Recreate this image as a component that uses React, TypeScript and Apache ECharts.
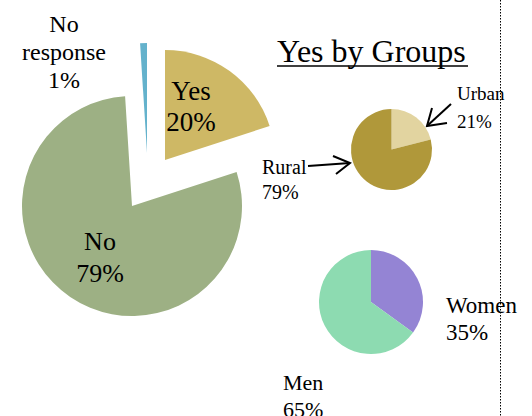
import React, { useEffect, useRef } from 'react';
import * as echarts from 'echarts';

const responseNames = ['Yes', 'No', 'No response'];
const responseValues = [20, 79, 1];
const locationNames = ['Urban', 'Rural'];
const locationValues = [21, 79];
const genderNames = ['Women', 'Men'];
const genderValues = [35, 65];
const groupTitle = 'Yes by Groups';

const FONT = '"Liberation Serif", "Times New Roman", serif';

function fmt(p: any) {
  return String(p.name).replace(' ', '\n') + '\n' + p.percent + '%';
}

function buildSeries(
  names: string[],
  values: number[],
  colors: string[],
  centers: number[][],
  radius: number,
  labelPos: { x: number; y: number; align: string; va: string }[],
  labelStyle: { fontSize: number; lineHeight: number }[],
  split: boolean
) {
  const mk = (k: number | null) => ({
    type: 'pie',
    center: k === null ? centers[0] : centers[k],
    radius,
    startAngle: 90,
    clockwise: true,
    avoidLabelOverlap: false,
    silent: true,
    emphasis: { disabled: true },
    labelLine: { show: false },
    label: {
      show: true,
      position: 'inside',
      formatter: fmt,
      color: '#000',
      fontFamily: FONT,
    },
    labelLayout: (params: any) => {
      const lp = labelPos[params.dataIndex];
      return { x: lp.x, y: lp.y, align: lp.align, verticalAlign: lp.va };
    },
    data: names.map((n, i) => ({
      name: n,
      value: values[i],
      itemStyle: { color: k === null || k === i ? colors[i] : 'rgba(0,0,0,0)' },
      label: {
        show: k === null || k === i,
        fontSize: labelStyle[i].fontSize,
        lineHeight: labelStyle[i].lineHeight,
        align: labelPos[i].align,
      },
    })),
  });
  if (split) return names.map((_, k) => mk(k));
  return [mk(null)];
}

export default function App() {
  const ref = useRef<HTMLDivElement>(null);
  useEffect(() => {
    document.body.style.margin = '0';
    const chart = echarts.init(ref.current!, null, { renderer: 'svg' });

    const responseSeries = buildSeries(
      responseNames,
      responseValues,
      ['#CEB865', '#9DB084', '#64B2CC'],
      [[165, 160], [132, 206], [147, 153]],
      110,
      [
        { x: 191, y: 106, align: 'center', va: 'middle' },
        { x: 100, y: 257, align: 'center', va: 'middle' },
        { x: 64, y: 52, align: 'center', va: 'middle' },
      ],
      [
        { fontSize: 27, lineHeight: 31 },
        { fontSize: 26, lineHeight: 32 },
        { fontSize: 24, lineHeight: 28 },
      ],
      true
    );
    const locationSeries = buildSeries(
      locationNames,
      locationValues,
      ['#E2D4A0', '#B0983A'],
      [[391.5, 149.5]],
      40.5,
      [
        { x: 457, y: 79, align: 'left', va: 'top' },
        { x: 262, y: 154, align: 'left', va: 'top' },
      ],
      [
        { fontSize: 19, lineHeight: 28 },
        { fontSize: 20, lineHeight: 25 },
      ],
      false
    );
    const genderSeries = buildSeries(
      genderNames,
      genderValues,
      ['#9484D4', '#8DDBB1'],
      [[371, 302]],
      52,
      [
        { x: 446, y: 292, align: 'left', va: 'top' },
        { x: 283, y: 369, align: 'left', va: 'top' },
      ],
      [
        { fontSize: 23, lineHeight: 27 },
        { fontSize: 22, lineHeight: 27 },
      ],
      false
    );

    const stroke = { stroke: '#000', lineWidth: 2, fill: 'none' };
    chart.setOption({
      animation: false,
      backgroundColor: '#fff',
      series: [...responseSeries, ...locationSeries, ...genderSeries],
      graphic: [
        {
          type: 'text',
          x: 277,
          y: 51,
          style: {
            text: groupTitle,
            font: '32px ' + FONT,
            fill: '#000',
            align: 'left',
            verticalAlign: 'middle',
          },
        },
        { type: 'line', shape: { x1: 277, y1: 66, x2: 468, y2: 66 }, style: { stroke: '#000', lineWidth: 1.5 } },
        { type: 'line', shape: { x1: 500.5, y1: 0, x2: 500.5, y2: 416 }, style: { stroke: '#000', lineWidth: 1, lineDash: [1.5, 1.5] } },
        { type: 'line', shape: { x1: 308, y1: 166, x2: 350, y2: 163 }, style: stroke },
        { type: 'polyline', shape: { points: [[333, 156], [350, 163], [336, 174]] }, style: stroke },
        { type: 'line', shape: { x1: 451, y1: 104, x2: 427, y2: 126 }, style: stroke },
        { type: 'polyline', shape: { points: [[432, 108], [427, 126], [447, 123]] }, style: stroke },
      ],
    });
    return () => chart.dispose();
  }, []);
  return <div ref={ref} style={{ width: 532, height: 416 }} />;
}
